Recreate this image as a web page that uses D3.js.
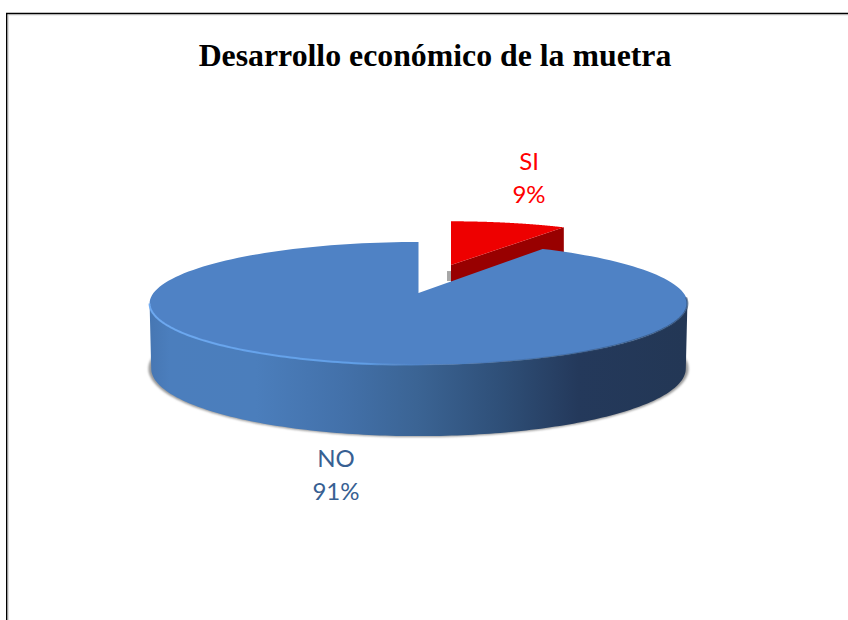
<!DOCTYPE html>
<html>
<head>
<meta charset="utf-8">
<script src="https://cdn.jsdelivr.net/npm/d3@7"></script>
<style>
html,body{margin:0;padding:0;background:#fff;}
svg{display:block;}
</style>
</head>
<body>
<svg id="chart" width="848" height="620"></svg>
<script>
// Chart content
const chartTitle = "Desarrollo económico de la muetra";
const categories = ["SI", "NO"];
const shares = [9, 91];
const sliceColors = ["#ee0000", "#4f82c5"];
const labelColors = ["#ff0000", "#376092"];

const svg = d3.select("#chart");

// Slice angles, clockwise from twelve o'clock
const slices = d3.pie().sort(null).startAngle(0).endAngle(2 * Math.PI)(shares);

// Perspective view of the disc: u runs right, v runs towards the back
const persp = 0.17;
const diskX = d3.scaleLinear().domain([0, 1]).range([418.5, 418.5 + 265]);
const pulledX = d3.scaleLinear().domain([0, 1]).range([451, 451 + 259]);
const diskY = d3.scaleLinear().domain([0, 1]).range([293, 293 - 59.7]);
const drop = 64;

function project(u, v, lower, xScale = diskX) {
  const w = 1 + persp * v;
  const x = xScale((lower ? 0.994 : 1) * u / w);
  const y = diskY((lower ? 1.1 : 1) * v / w) + (lower ? drop : 0);
  return [x, y];
}
function rim(a0, a1, backShift, lower, xScale, radius = 1) {
  const n = 160;
  return d3.range(n + 1).map(i => {
    const a = a0 + (a1 - a0) * i / n;
    return project(radius * Math.sin(a), backShift + radius * Math.cos(a), lower, xScale);
  });
}
const line = d3.line();

// Definitions: side wall shading, rim light, soft blurs
const defs = svg.append("defs");
const wall = defs.append("linearGradient").attr("id", "wall")
  .attr("gradientUnits", "userSpaceOnUse").attr("x1", 148).attr("x2", 686).attr("y1", 0).attr("y2", 0);
[[0, "#4676b2"], [0.04, "#4b7ebd"], [0.2, "#4b7ebc"], [0.36, "#4371aa"], [0.5, "#3b6494"],
 [0.65, "#2f5079"], [0.8, "#24395b"], [1, "#233755"]]
  .forEach(s => wall.append("stop").attr("offset", s[0]).attr("stop-color", s[1]));
const glow = defs.append("linearGradient").attr("id", "rimLight")
  .attr("gradientUnits", "userSpaceOnUse").attr("x1", 148).attr("x2", 686).attr("y1", 0).attr("y2", 0);
[[0, "#6eaaf2", 0.95], [0.4, "#62a2ec", 0.9], [0.55, "#4f82c5", 0.0], [0.65, "#2f5077", 0.25], [1, "#2a4468", 0.6]]
  .forEach(s => glow.append("stop").attr("offset", s[0]).attr("stop-color", s[1]).attr("stop-opacity", s[2]));
defs.append("filter").attr("id", "soft").attr("x", "-5%").attr("y", "-5%").attr("width", "110%").attr("height", "110%")
  .append("feGaussianBlur").attr("stdDeviation", 1.3);
defs.append("filter").attr("id", "softer").attr("x", "-5%").attr("y", "-5%").attr("width", "110%").attr("height", "110%")
  .append("feGaussianBlur").attr("stdDeviation", 0.6);

// Frame around the chart area
svg.append("path").attr("d", "M8.5,620V15H848").attr("fill", "none").attr("stroke", "#dedede").attr("stroke-width", 1);
svg.append("path").attr("d", "M6.7,620V13.5H848").attr("fill", "none").attr("stroke", "#000").attr("stroke-width", 1.4);

// Title
svg.append("text").attr("x", 435).attr("y", 66).attr("text-anchor", "middle")
  .attr("font-family", "'Liberation Serif'").attr("font-weight", "bold").attr("font-size", 31.8)
  .attr("fill", "#000").text(chartTitle);

// SI slice, pulled out towards the back
const si = slices[0];
const pull = 0.509;
const siApex = project(0, pull, false, pulledX);
const siCorner = rim(si.endAngle, si.endAngle, pull, false, pulledX)[0];
svg.append("path").attr("filter", "url(#softer)").attr("fill", "#8a8a8a").attr("opacity", 0.75)
  .attr("d", line([[siApex[0] - 4, siApex[1] + 6], [siApex[0] + 1, siApex[1] + 6], [siApex[0] + 1, siApex[1] + 16], [siApex[0] - 4, siApex[1] + 16]]) + "Z");
svg.append("path").attr("fill", "#980000")
  .attr("d", line([siApex, siCorner, [siCorner[0], siCorner[1] + 50], [siApex[0], siApex[1] + 50]]) + "Z");
svg.append("path").attr("fill", sliceColors[0])
  .attr("d", line([siApex, ...rim(si.startAngle, si.endAngle, pull, false, pulledX)]) + "Z");

// Ground shadow under the disc
const no = slices[1];
const sideA = 99.8 * Math.PI / 180, sideB = 260.2 * Math.PI / 180;
const shadow = rim(sideA - 0.3, sideB + 0.3, 0, true, diskX, 1.01);
svg.append("path").attr("fill", "#9a9a9a").attr("filter", "url(#soft)")
  .attr("d", line(shadow) + "Z");

// Side wall of the NO slice
svg.append("path").attr("fill", "url(#wall)")
  .attr("d", line([...rim(sideA, sideB, 0), ...rim(sideA, sideB, 0, true).reverse()]) + "Z");

// Top face of the NO slice
svg.append("path").attr("fill", sliceColors[1])
  .attr("d", line([project(0, 0), ...rim(no.startAngle, no.endAngle, 0)]) + "Z");

// Light catching the front edge of the disc
svg.append("path").attr("fill", "none").attr("stroke", "url(#rimLight)").attr("stroke-width", 2)
  .attr("filter", "url(#softer)").attr("d", line(rim(sideA - 0.1, sideB, 0)));

// Data labels
const labelAnchors = [[529, 170, 203], [336, 467, 500]];
categories.forEach((c, i) => {
  [c, shares[i] + "%"].forEach((t, j) => {
    svg.append("text").attr("x", labelAnchors[i][0]).attr("y", labelAnchors[i][j + 1])
      .attr("text-anchor", "middle").attr("font-family", "Lato").attr("font-size", 24)
      .attr("fill", labelColors[i]).text(t);
  });
});
</script>
</body>
</html>
